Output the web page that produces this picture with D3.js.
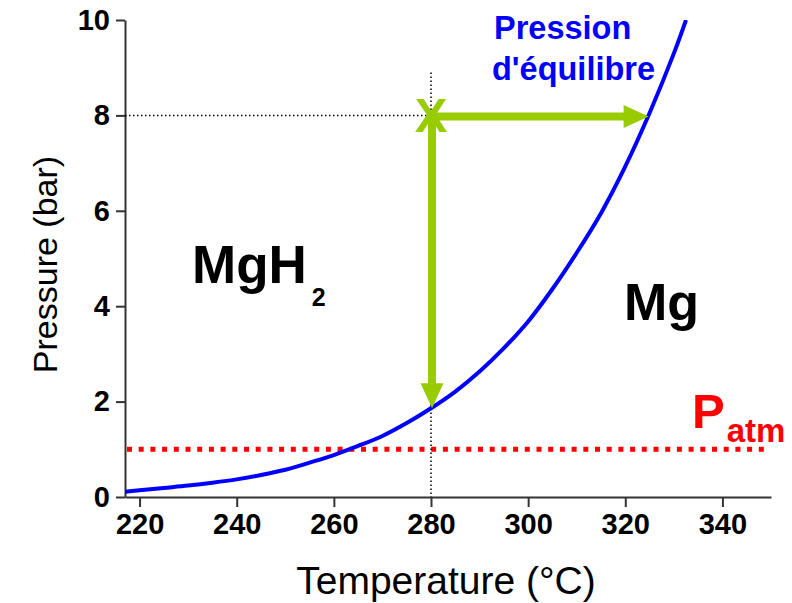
<!DOCTYPE html>
<html>
<head>
<meta charset="utf-8">
<script src="https://cdn.jsdelivr.net/npm/d3@7/dist/d3.min.js"></script>
<style>
  html, body { margin: 0; padding: 0; background: #fff; }
  svg { display: block; font-family: "Liberation Sans", Arial, sans-serif; }
</style>
</head>
<body>
<svg id="chart" width="792" height="603"></svg>
<script>
// Equilibrium pressure curve of MgH2 <-> Mg + H2 (temperature in °C, pressure in bar)
const temperatures = [217, 220, 225, 230, 235, 240, 245, 250, 255, 260, 265, 270, 275, 280,
                      285, 290, 295, 300, 305, 310, 315, 320, 325, 330, 332.5];
const pressures    = [0.11, 0.14, 0.19, 0.24, 0.30, 0.37, 0.46, 0.57, 0.72, 0.88, 1.07, 1.28, 1.55, 1.86,
                      2.21, 2.63, 3.12, 3.68, 4.36, 5.12, 5.95, 6.93, 8.05, 9.30, 10.0];

const xTicks = [220, 240, 260, 280, 300, 320, 340];
const yTicks = [0, 2, 4, 6, 8, 10];
const xDomain = [217, 350];
const yDomain = [0, 10];

// Atmospheric pressure reference
const atmPressure = 1;

// Operating point and the two transitions drawn from it
const opTemp = 280;
const opPressure = 8;
const heatTargetTemp = 324.8;       // curve reached at constant pressure
const releaseTargetPressure = 1.86; // curve reached at constant temperature
const guideTop = 8.9;

const svg = d3.select("#chart");
const plotLeft = 125, plotRight = 771, plotTop = 20, plotBottom = 497;

const x = d3.scaleLinear().domain(xDomain).range([plotLeft, plotRight]);
const y = d3.scaleLinear().domain(yDomain).range([plotBottom, plotTop]);

const green = "#99cc00";
const blue = "#0000ff";
const red = "#ff0000";

// Clip for the curve
svg.append("defs").append("clipPath").attr("id", "plot-clip")
  .append("rect").attr("x", plotLeft).attr("y", plotTop)
  .attr("width", plotRight - plotLeft).attr("height", plotBottom - plotTop);

// Axes
const xAxis = d3.axisBottom(x).tickValues(xTicks).tickSize(10).tickPadding(6).tickSizeOuter(0);
const yAxis = d3.axisLeft(y).tickValues(yTicks).tickSize(9).tickPadding(6).tickSizeOuter(0);

const gx = svg.append("g").attr("transform", `translate(0,${plotBottom})`).call(xAxis);
const gy = svg.append("g").attr("transform", `translate(${plotLeft},0)`).call(yAxis);

[gx, gy].forEach(g => {
  g.select(".domain").attr("stroke", "#333").attr("stroke-width", 2);
  g.selectAll(".tick line").attr("stroke", "#333").attr("stroke-width", 2);
  g.selectAll(".tick text")
    .attr("fill", "#000")
    .style("font-family", "'Liberation Sans', Arial, sans-serif")
    .style("font-weight", "bold")
    .style("font-size", "29px");
});

// Axis titles
svg.append("text")
  .attr("x", 446).attr("y", 594)
  .attr("text-anchor", "middle")
  .style("font-size", "39px")
  .text("Temperature (°C)");

svg.append("text")
  .attr("transform", `translate(57,${(plotTop + plotBottom) / 2 + 6}) rotate(-90)`)
  .attr("text-anchor", "middle")
  .style("font-size", "34px")
  .text("Pressure (bar)");

// Atmospheric pressure line
svg.append("line")
  .attr("x1", x(xDomain[0]) + 2).attr("x2", plotRight - 1)
  .attr("y1", y(atmPressure)).attr("y2", y(atmPressure))
  .attr("stroke", red).attr("stroke-width", 5)
  .attr("stroke-dasharray", "5,6.7");

// Dotted guides through the operating point
svg.append("line")
  .attr("x1", plotLeft).attr("x2", x(opTemp))
  .attr("y1", y(opPressure)).attr("y2", y(opPressure))
  .attr("stroke", "#000").attr("stroke-width", 1.5).attr("stroke-dasharray", "1.5,2.5");
svg.append("line")
  .attr("x1", x(opTemp)).attr("x2", x(opTemp))
  .attr("y1", y(guideTop)).attr("y2", plotBottom)
  .attr("stroke", "#000").attr("stroke-width", 1.5).attr("stroke-dasharray", "1.5,2.5");

// Equilibrium curve
const pts = temperatures.map((t, i) => [t, pressures[i]]);
svg.append("path")
  .datum(pts)
  .attr("clip-path", "url(#plot-clip)")
  .attr("fill", "none")
  .attr("stroke", blue)
  .attr("stroke-width", 4)
  .attr("d", d3.line().x(d => x(d[0])).y(d => y(d[1])).curve(d3.curveCatmullRom.alpha(0.5)));

// Arrows
const headLen = 25, headHalf = 11.5, shaft = 8;
const ox = x(opTemp), oy = y(opPressure);

// constant pressure heating -> curve
const hx = x(heatTargetTemp);
svg.append("line")
  .attr("x1", ox).attr("x2", hx - headLen + 1)
  .attr("y1", oy + 1).attr("y2", oy + 1)
  .attr("stroke", green).attr("stroke-width", shaft);
svg.append("path")
  .attr("fill", green)
  .attr("d", `M${hx},${oy + 1} L${hx - headLen},${oy + 1 - headHalf} L${hx - headLen},${oy + 1 + headHalf} Z`);

// constant temperature pressure drop -> curve
const vy = y(releaseTargetPressure);
svg.append("line")
  .attr("x1", ox + 1).attr("x2", ox + 1)
  .attr("y1", oy).attr("y2", vy - headLen + 1)
  .attr("stroke", green).attr("stroke-width", shaft);
svg.append("path")
  .attr("fill", green)
  .attr("d", `M${ox + 1},${vy} L${ox + 1 - headHalf},${vy - headLen} L${ox + 1 + headHalf},${vy - headLen} Z`);

// Operating point marker
svg.append("text")
  .attr("x", ox).attr("y", oy + 17)
  .attr("text-anchor", "middle")
  .attr("fill", green)
  .style("font-weight", "bold")
  .style("font-size", "49px")
  .text("X");

// Region labels
const mgh2 = svg.append("text")
  .attr("x", 192).attr("y", 283)
  .style("font-weight", "bold").style("font-size", "53px").attr("fill", "#000");
mgh2.append("tspan").text("MgH");
mgh2.append("tspan").attr("dx", 5).attr("dy", 23).style("font-size", "25px").text("2");

svg.append("text")
  .attr("x", 624).attr("y", 320)
  .style("font-weight", "bold").style("font-size", "52px").attr("fill", "#000")
  .text("Mg");

const patm = svg.append("text")
  .attr("x", 692).attr("y", 428)
  .style("font-weight", "bold").style("font-size", "49px").attr("fill", red);
patm.append("tspan").text("P");
patm.append("tspan").attr("dx", 2).attr("dy", 14).style("font-size", "33px").text("atm");

// Curve label
svg.append("text")
  .attr("x", 494).attr("y", 39)
  .style("font-weight", "bold").style("font-size", "32.5px").attr("fill", blue)
  .text("Pression");
svg.append("text")
  .attr("x", 492).attr("y", 80)
  .style("font-weight", "bold").style("font-size", "32.5px").attr("fill", blue)
  .text("d'équilibre");
</script>
</body>
</html>
